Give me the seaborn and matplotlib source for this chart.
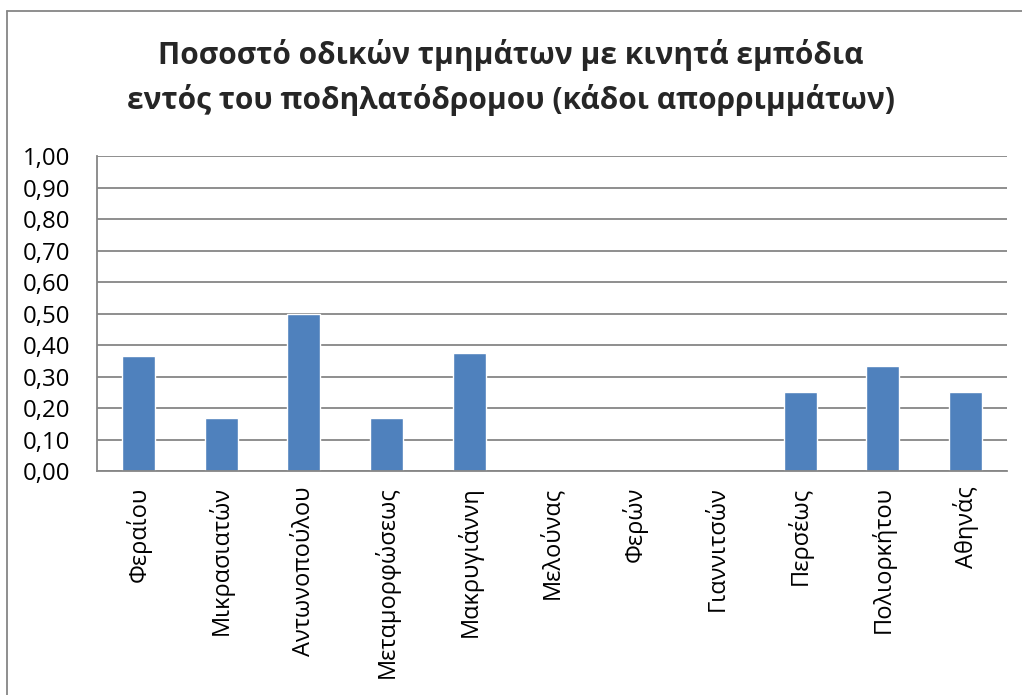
import matplotlib
matplotlib.use("Agg")
import matplotlib.pyplot as plt
import seaborn as sns
import pandas as pd
from matplotlib.ticker import FuncFormatter, MultipleLocator

categories = ["Φεραίου", "Μικρασιατών", "Αντωνοπούλου", "Μεταμορφώσεως", "Μακρυγιάννη",
              "Μελούνας", "Φερών", "Γιαννιτσών", "Περσέως", "Πολιορκήτου", "Αθηνάς"]
values = [0.364, 0.167, 0.50, 0.167, 0.375, 0.0, 0.0, 0.0, 0.25, 0.333, 0.25]
title_lines = ["Ποσοστό οδικών τμημάτων με κινητά εμπόδια",
               "εντός του ποδηλατόδρομου (κάδοι απορριμμάτων)"]

sns.set_theme(style="white")
plt.rcParams['font.family'] = ['Open Sans', 'DejaVu Sans']

df = pd.DataFrame({"cat": categories, "val": values})

fig = plt.figure(figsize=(10.22, 6.95), dpi=100)
ax = fig.add_axes([0.0949, 0.3223, 0.8904, 0.4532])
sns.barplot(data=df, x="cat", y="val", color="#4F81BD", saturation=1, width=0.4, ax=ax)

ax.set_ylim(0, 1.0)
ax.yaxis.set_major_locator(MultipleLocator(0.1))
ax.yaxis.set_major_formatter(FuncFormatter(lambda v, p: f"{v:.2f}".replace(".", ",")))
ax.grid(axis="y", color="#868686", linewidth=1.3)
ax.set_axisbelow(True)
for s in ["top", "right"]:
    ax.spines[s].set_visible(False)
for s in ["left", "bottom"]:
    ax.spines[s].set_color("#868686")
    ax.spines[s].set_linewidth(1.3)
ax.set_xlabel("")
ax.set_ylabel("")
ax.tick_params(axis="y", labelsize=17.3, pad=19, length=0, colors="black")
ax.tick_params(axis="x", labelsize=17, pad=11, length=0, rotation=90, colors="black")
for lbl in ax.get_xticklabels():
    lbl.set_verticalalignment("top")

fig.text(0.5, 1 - 55 / 695, title_lines[0], ha="center", va="center", fontsize=21.5,
         fontweight="bold")
fig.text(0.5, 1 - 100 / 695, title_lines[1], ha="center", va="center", fontsize=21.5,
         fontweight="bold")

# outer chart border (left and top visible)
fig.add_artist(plt.Line2D([0.0073, 0.0073], [0, 0.984], color="#868686", linewidth=1.3,
                          transform=fig.transFigure))
fig.add_artist(plt.Line2D([0.0073, 1.0], [0.984, 0.984], color="#868686", linewidth=1.3,
                          transform=fig.transFigure))

fig.savefig("out.png", dpi=100)
